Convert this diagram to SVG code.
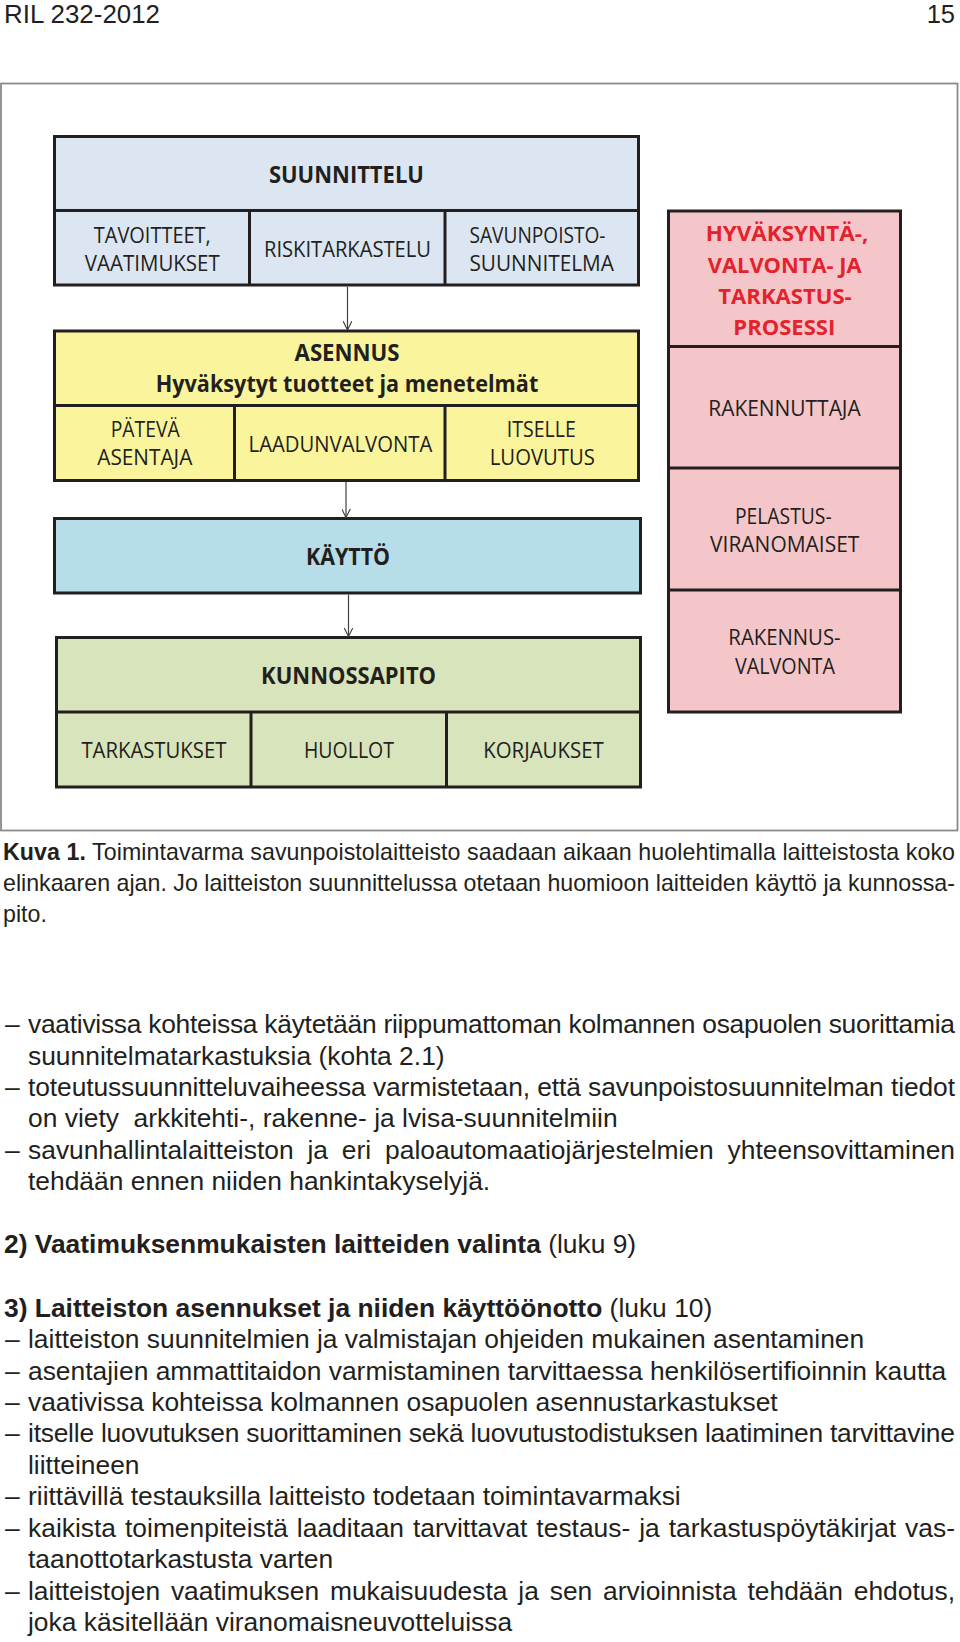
<svg xmlns="http://www.w3.org/2000/svg" width="960" height="1642" viewBox="0 0 960 1642">
<defs>
<style>
.bx{stroke:#231f20;stroke-width:3;}
.dv{stroke:#231f20;stroke-width:3;fill:none;}
.lbl{font-family:"Open Sans","Noto Sans",sans-serif;font-size:21px;fill:#231f20;text-anchor:middle;}
.ttl{font-family:"Open Sans","Noto Sans",sans-serif;font-size:23px;font-weight:700;fill:#231f20;text-anchor:middle;}
.red{font-family:"Open Sans","Noto Sans",sans-serif;font-size:22px;font-weight:700;fill:#e3232c;text-anchor:middle;}
.body{font-family:"Liberation Sans",Arial,sans-serif;font-size:26.4px;fill:#231f20;}
.cap{font-family:"Liberation Sans",Arial,sans-serif;font-size:23.2px;fill:#231f20;}
.b{font-weight:700;}
.conn{stroke:#404040;stroke-width:1.2;fill:none;}
</style>
<marker id="arr" viewBox="0 0 10 10" refX="10" refY="5" markerWidth="9" markerHeight="9" markerUnits="userSpaceOnUse" orient="auto">
<path d="M0,0 L10,5 L0,10" fill="none" stroke="#404040" stroke-width="1.3"/>
</marker>
</defs>
<rect width="960" height="1642" fill="#ffffff"/>

<text class="body" x="4" y="23" style="font-size:25.5px" textLength="156" lengthAdjust="spacingAndGlyphs">RIL 232-2012</text>
<text class="body" x="955" y="23" style="font-size:25.5px;text-anchor:end">15</text>

<rect x="1" y="83.5" width="956.5" height="747" fill="none" stroke="#8a8a8a" stroke-width="1.8"/>

<g id="suunnittelu">
<rect class="bx" x="54.5" y="136.5" width="584" height="148.5" fill="#dce6f2"/>
<path class="dv" d="M54.5,210.5 H638.5 M249.5,210.5 V285 M445,210.5 V285"/>
<text class="ttl" x="346.4" y="183" textLength="155" lengthAdjust="spacingAndGlyphs">SUUNNITTELU</text>
<text class="lbl" x="152.3" y="243" textLength="117" lengthAdjust="spacingAndGlyphs">TAVOITTEET,</text>
<text class="lbl" x="152.3" y="271" textLength="135" lengthAdjust="spacingAndGlyphs">VAATIMUKSET</text>
<text class="lbl" x="347.5" y="257" textLength="167" lengthAdjust="spacingAndGlyphs">RISKITARKASTELU</text>
<text class="lbl" x="537.5" y="243" textLength="136" lengthAdjust="spacingAndGlyphs">SAVUNPOISTO-</text>
<text class="lbl" x="541.7" y="271" textLength="144.6" lengthAdjust="spacingAndGlyphs">SUUNNITELMA</text>
</g>

<g id="asennus">
<rect class="bx" x="54.5" y="331" width="584" height="149.5" fill="#faf49c"/>
<path class="dv" d="M54.5,405.5 H638.5 M234.5,405.5 V480.5 M445,405.5 V480.5"/>
<text class="ttl" x="347.1" y="361" textLength="105" lengthAdjust="spacingAndGlyphs">ASENNUS</text>
<text class="ttl" x="347" y="392" textLength="382.7" lengthAdjust="spacingAndGlyphs">Hyväksytyt tuotteet ja menetelmät</text>
<text class="lbl" x="145.2" y="437" textLength="69" lengthAdjust="spacingAndGlyphs">PÄTEVÄ</text>
<text class="lbl" x="144.8" y="465" textLength="95" lengthAdjust="spacingAndGlyphs">ASENTAJA</text>
<text class="lbl" x="340.4" y="451.5" textLength="183.7" lengthAdjust="spacingAndGlyphs">LAADUNVALVONTA</text>
<text class="lbl" x="541.3" y="437" textLength="69" lengthAdjust="spacingAndGlyphs">ITSELLE</text>
<text class="lbl" x="542.3" y="465" textLength="105" lengthAdjust="spacingAndGlyphs">LUOVUTUS</text>
</g>

<g id="kaytto">
<rect class="bx" x="54.5" y="518.5" width="586" height="74.5" fill="#b6dde8"/>
<text class="ttl" x="348.1" y="565" textLength="84" lengthAdjust="spacingAndGlyphs">KÄYTTÖ</text>
</g>

<g id="kunnossapito">
<rect class="bx" x="56.5" y="637.5" width="584" height="149.5" fill="#d8e4bc"/>
<path class="dv" d="M56.5,712 H640.5 M251,712 V787 M446.5,712 V787"/>
<text class="ttl" x="348.6" y="683.5" textLength="175" lengthAdjust="spacingAndGlyphs">KUNNOSSAPITO</text>
<text class="lbl" x="153.9" y="757.5" textLength="145" lengthAdjust="spacingAndGlyphs">TARKASTUKSET</text>
<text class="lbl" x="349" y="757.5" textLength="90" lengthAdjust="spacingAndGlyphs">HUOLLOT</text>
<text class="lbl" x="543.5" y="757.5" textLength="120.5" lengthAdjust="spacingAndGlyphs">KORJAUKSET</text>
</g>

<g id="hyvaksynta">
<rect class="bx" x="668.5" y="211" width="232" height="501" fill="#f5c6c9"/>
<path class="dv" d="M668.5,346.5 H900.5 M668.5,468 H900.5 M668.5,590 H900.5"/>
<text class="red" x="787" y="240.5" textLength="162.7" lengthAdjust="spacingAndGlyphs">HYVÄKSYNTÄ-,</text>
<text class="red" x="784.7" y="272.5" textLength="154" lengthAdjust="spacingAndGlyphs">VALVONTA- JA</text>
<text class="red" x="785" y="304" textLength="133.3" lengthAdjust="spacingAndGlyphs">TARKASTUS-</text>
<text class="red" x="784.3" y="335" textLength="102" lengthAdjust="spacingAndGlyphs">PROSESSI</text>
</g>
<g id="rakennuttaja">
<text class="lbl" x="784.5" y="416" textLength="152.4" lengthAdjust="spacingAndGlyphs">RAKENNUTTAJA</text>
</g>
<g id="pelastusviranomaiset">
<text class="lbl" x="783.3" y="523.5" textLength="96.7" lengthAdjust="spacingAndGlyphs">PELASTUS-</text>
<text class="lbl" x="784.7" y="551.5" textLength="149.3" lengthAdjust="spacingAndGlyphs">VIRANOMAISET</text>
</g>
<g id="rakennusvalvonta">
<text class="lbl" x="784.5" y="645" textLength="112.3" lengthAdjust="spacingAndGlyphs">RAKENNUS-</text>
<text class="lbl" x="785" y="673.5" textLength="100" lengthAdjust="spacingAndGlyphs">VALVONTA</text>
</g>

<g id="connectors">
<line class="conn" x1="347.5" y1="286.5" x2="347.5" y2="330" marker-end="url(#arr)"/>
<line class="conn" x1="346" y1="482" x2="346" y2="517.5" marker-end="url(#arr)"/>
<line class="conn" x1="348.5" y1="594.5" x2="348.5" y2="636.5" marker-end="url(#arr)"/>
</g>

<g id="caption">
<text class="cap" x="3" y="860" textLength="952"><tspan class="b">Kuva 1.</tspan> Toimintavarma savunpoistolaitteisto saadaan aikaan huolehtimalla laitteistosta koko</text>
<text class="cap" x="3" y="891" textLength="952">elinkaaren ajan. Jo laitteiston suunnittelussa otetaan huomioon laitteiden käyttö ja kunnossa-</text>
<text class="cap" x="3" y="922">pito.</text>
</g>

<g id="text1">
<text class="body" x="5" y="1033">–</text>
<text class="body" x="28" y="1033" textLength="927">vaativissa kohteissa käytetään riippumattoman kolmannen osapuolen suorittamia</text>
<text class="body" x="28" y="1064.5">suunnitelmatarkastuksia (kohta 2.1)</text>
<text class="body" x="5" y="1096">–</text>
<text class="body" x="28" y="1096" textLength="927">toteutussuunnitteluvaiheessa varmistetaan, että savunpoistosuunnitelman tiedot</text>
<text class="body" x="28" y="1127" xml:space="preserve">on viety  arkkitehti-, rakenne- ja lvisa-suunnitelmiin</text>
<text class="body" x="5" y="1158.5">–</text>
<text class="body" x="28" y="1158.5" textLength="927" style="word-spacing:6.5px">savunhallintalaitteiston ja eri paloautomaatiojärjestelmien yhteensovittaminen</text>
<text class="body" x="28" y="1190">tehdään ennen niiden hankintakyselyjä.</text>

<text class="body" x="4" y="1253"><tspan class="b">2) Vaatimuksenmukaisten laitteiden valinta</tspan> (luku 9)</text>

<text class="body" x="4" y="1317"><tspan class="b">3) Laitteiston asennukset ja niiden käyttöönotto</tspan> (luku 10)</text>
<text class="body" x="5" y="1348">–</text>
<text class="body" x="28" y="1348">laitteiston suunnitelmien ja valmistajan ohjeiden mukainen asentaminen</text>
<text class="body" x="5" y="1379.5">–</text>
<text class="body" x="28" y="1379.5">asentajien ammattitaidon varmistaminen tarvittaessa henkilösertifioinnin kautta</text>
<text class="body" x="5" y="1411">–</text>
<text class="body" x="28" y="1411">vaativissa kohteissa kolmannen osapuolen asennustarkastukset</text>
<text class="body" x="5" y="1442">–</text>
<text class="body" x="28" y="1442" textLength="927">itselle luovutuksen suorittaminen sekä luovutustodistuksen laatiminen tarvittavine</text>
<text class="body" x="28" y="1474">liitteineen</text>
<text class="body" x="5" y="1505">–</text>
<text class="body" x="28" y="1505">riittävillä testauksilla laitteisto todetaan toimintavarmaksi</text>
<text class="body" x="5" y="1537">–</text>
<text class="body" x="28" y="1537" textLength="927" style="word-spacing:1.6px">kaikista toimenpiteistä laaditaan tarvittavat testaus- ja tarkastuspöytäkirjat vas-</text>
<text class="body" x="28" y="1568">taanottotarkastusta varten</text>
<text class="body" x="5" y="1599.5">–</text>
<text class="body" x="28" y="1599.5" textLength="927" style="word-spacing:3.5px">laitteistojen vaatimuksen mukaisuudesta ja sen arvioinnista tehdään ehdotus,</text>
<text class="body" x="28" y="1631">joka käsitellään viranomaisneuvotteluissa</text>
</g>
</svg>
